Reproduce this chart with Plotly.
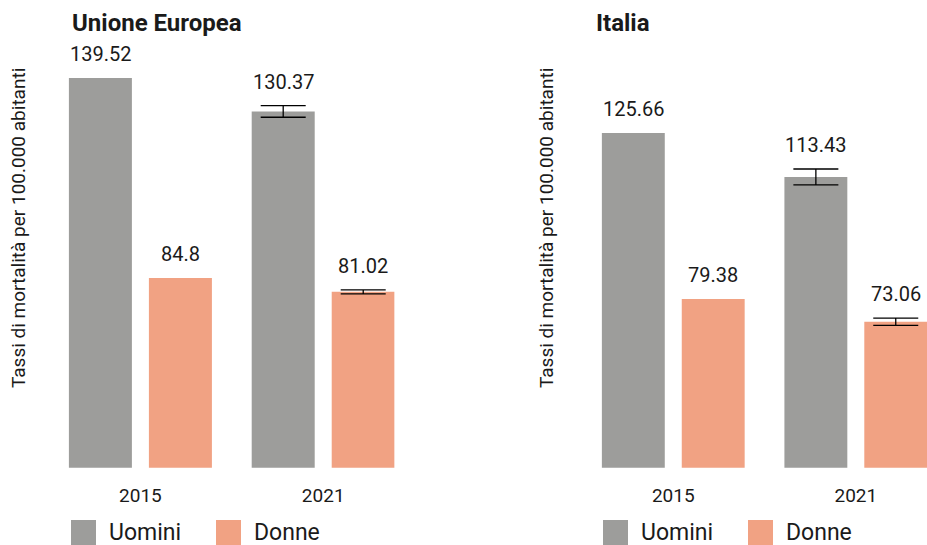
import plotly.graph_objects as go

# ---- data ----
years = ["2015", "2021"]
eu_uomini = [139.52, 130.37]
eu_donne = [84.8, 81.02]
eu_uomini_err = [None, 1.6]
eu_donne_err = [None, 0.55]
it_uomini = [125.66, 113.43]
it_donne = [79.38, 73.06]
it_uomini_err = [None, 2.2]
it_donne_err = [None, 1.0]
series_names = ["Uomini", "Donne"]
panel_titles = ["Unione Europea", "Italia"]
y_title = "Tassi di mortalità per 100.000 abitanti"

GRAY = "#9d9d9b"
SALMON = "#f1a283"
TXT = "#1a1a1a"
FONT = "Roboto"
W, H = 927, 545


def px_x(p):
    return p / W


def px_y(p):
    return 1 - p / H


fig = go.Figure()

panels = [
    (eu_uomini, eu_donne, eu_uomini_err, eu_donne_err, "x", "y"),
    (it_uomini, it_donne, it_uomini_err, it_donne_err, "x2", "y2"),
]

annotations = []
for vals_u, vals_d, err_u, err_d, xa, ya in panels:
    for name, vals, errs, col, shift in [
        (series_names[0], vals_u, err_u, GRAY, -40),
        (series_names[1], vals_d, err_d, SALMON, 40),
    ]:
        err_arr = ["NaN" if e is None else e for e in errs]
        fig.add_trace(go.Bar(
            x=years, y=vals, name=name, marker_color=col,
            marker_line_width=0, xaxis=xa, yaxis=ya, showlegend=False,
            error_y=dict(type="data", array=err_arr, visible=True,
                         color="black", thickness=1.3, width=22.5),
            hoverinfo="skip",
        ))
        for i, (v, e) in enumerate(zip(vals, errs)):
            annotations.append(dict(
                x=i, y=v + (e or 0), xref=xa, yref=ya, xshift=shift,
                yshift=24, text=f"{v:g}", showarrow=False,
                font=dict(family=FONT, size=20, color=TXT),
                xanchor="center", yanchor="middle",
            ))

# panel titles
for title, xp in zip(panel_titles, [70, 594]):
    annotations.append(dict(
        x=px_x(xp), y=px_y(23), xref="paper", yref="paper", text=f"<b>{title}</b>",
        showarrow=False, xanchor="left", yanchor="middle",
        font=dict(family=FONT, size=24, color=TXT),
    ))

# y-axis titles
for xp in [18, 546]:
    annotations.append(dict(
        x=px_x(xp), y=px_y(228), xref="paper", yref="paper", text=y_title,
        textangle=-90, showarrow=False, xanchor="center", yanchor="middle",
        font=dict(family=FONT, size=19, color=TXT),
    ))

# legends (drawn as layout decorations)
shapes = []
for x0 in [71, 603]:
    for name, col, dx in [(series_names[0], GRAY, 0), (series_names[1], SALMON, 145)]:
        sx = x0 + dx
        shapes.append(dict(
            type="rect", xref="paper", yref="paper",
            x0=px_x(sx), x1=px_x(sx + 25), y0=px_y(545), y1=px_y(520),
            fillcolor=col, line_width=0,
        ))
        annotations.append(dict(
            x=px_x(sx + 36), y=px_y(532), xref="paper", yref="paper", text=name,
            showarrow=False, xanchor="left", yanchor="middle",
            font=dict(family=FONT, size=23, color=TXT),
        ))

ydom = [px_y(467.7), px_y(40)]
xaxis_common = dict(
    type="category", range=[-0.5, 1.39], showgrid=False, zeroline=False,
    showline=False, ticks="outside", ticklen=10, tickcolor="rgba(0,0,0,0)",
    tickfont=dict(family=FONT, size=19, color=TXT), fixedrange=True,
)
yaxis_common = dict(showgrid=False, zeroline=False, showline=False,
                    showticklabels=False, ticks="", fixedrange=True)

fig.update_layout(
    width=W, height=H,
    margin=dict(l=0, r=0, t=0, b=0),
    paper_bgcolor="white", plot_bgcolor="white",
    barmode="group", bargap=0.1247, bargroupgap=0.2125,
    xaxis=dict(domain=[px_x(49), px_x(394.5)], anchor="y", **xaxis_common),
    xaxis2=dict(domain=[px_x(582), 1.0], anchor="y2", **xaxis_common),
    yaxis=dict(domain=ydom, anchor="x", range=[32.9, 149.9], **yaxis_common),
    yaxis2=dict(domain=ydom, anchor="x2", range=[32.36, 151.6], **yaxis_common),
    annotations=annotations, shapes=shapes,
    font=dict(family=FONT, color=TXT),
)

fig.write_html(
    "out.html",
    config={"displayModeBar": False},
    post_script="document.body.style.margin='0';document.body.style.overflow='hidden';",
)
